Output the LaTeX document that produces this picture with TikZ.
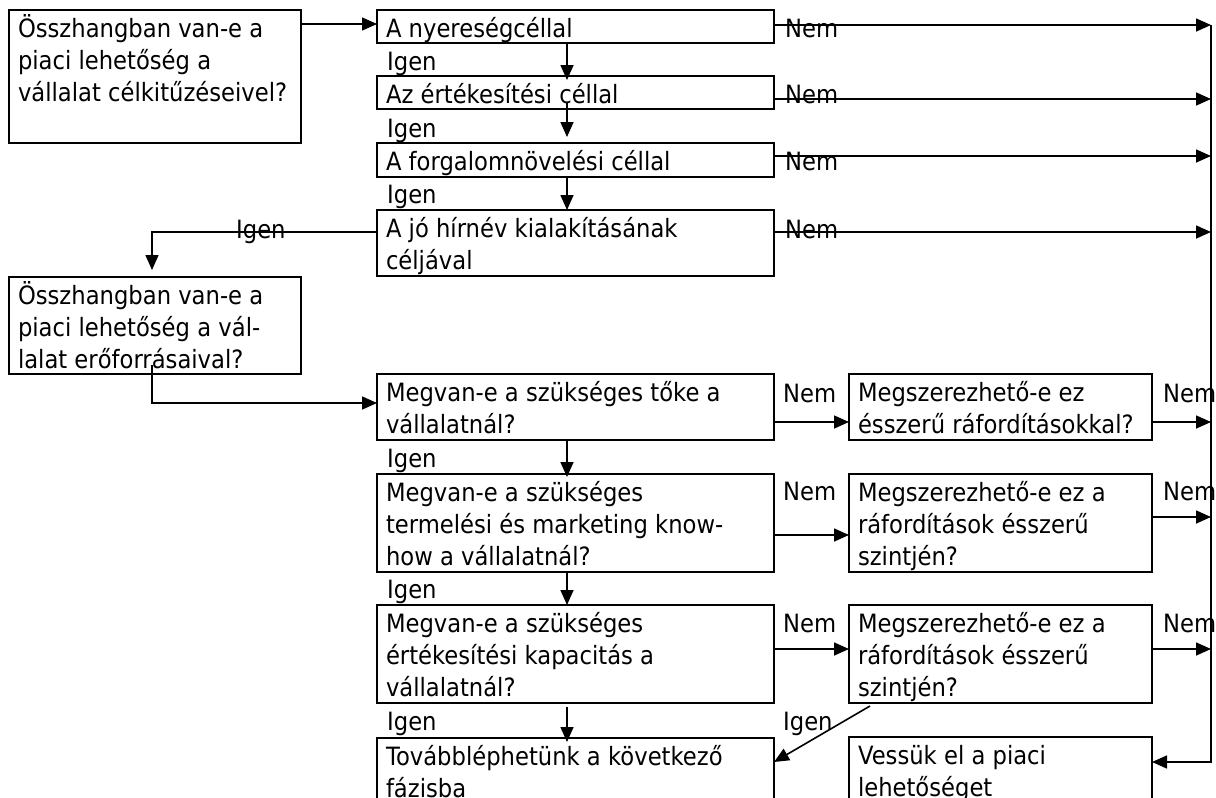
\documentclass[tikz,border=0pt]{standalone}
\usepackage{fontspec}
\setmainfont{DejaVu Sans}[FakeStretch=0.9]
\usetikzlibrary{arrows.meta,calc}
% top-aligned multi-line box text
\newcommand\qtext[2]{\parbox[t]{#1}{#2}}
\begin{document}
\begin{tikzpicture}[x=1pt,y=-1pt,
  every node/.style={font=\fontsize{25.2pt}{32pt}\selectfont},
  qbox/.style={draw, line width=2.2pt, anchor=north west, outer sep=0pt,
    inner xsep=9pt, inner ysep=0pt, text height=27pt},
  lbl/.style={anchor=base west, inner sep=0pt},
  flow/.style={line width=1.6pt, -{Triangle[length=15pt,width=13pt]}}]
\clip (0,0) rectangle (1216,798);

% left column
\node[qbox, text depth=106pt] (b0) at (9,10)
  {\qtext{274pt}{Összhangban van-e a\\piaci lehetőség a\\vállalat célkitűzéseivel?}};
\node[qbox, text depth=70pt] (b5) at (9,277)
  {\qtext{274pt}{Összhangban van-e a\\piaci lehetőség a vál-\\lalat erőforrásaival?}};

% goal column
\node[qbox, text depth=6pt] (n1) at (377,10) {\qtext{379pt}{A nyereségcéllal}};
\node[qbox, text depth=6pt] (n2) at (377,76) {\qtext{379pt}{Az értékesítési céllal}};
\node[qbox, text depth=7pt] (n3) at (377,143) {\qtext{379pt}{A forgalomnövelési céllal}};
\node[qbox, text depth=39pt] (n4) at (377,210)
  {\qtext{379pt}{A jó hírnév kialakításának\\céljával}};

% resource column
\node[qbox, text depth=39pt] (m1) at (377,374)
  {\qtext{379pt}{Megvan-e a szükséges tőke a\\vállalatnál?}};
\node[qbox, text depth=71pt] (m2) at (377,474)
  {\qtext{379pt}{Megvan-e a szükséges\\termelési és marketing know-\\how a vállalatnál?}};
\node[qbox, text depth=71pt] (m3) at (377,605)
  {\qtext{379pt}{Megvan-e a szükséges\\értékesítési kapacitás a\\vállalatnál?}};
\node[qbox, text depth=53pt] (t) at (377,738)
  {\qtext{379pt}{Továbbléphetünk a következő\\fázisba}};

% acquisition column
\node[qbox, text depth=39pt] (r1) at (849,374)
  {\qtext{285pt}{Megszerezhető-e ez\\ésszerű ráfordításokkal?}};
\node[qbox, text depth=71pt] (r2) at (849,474)
  {\qtext{285pt}{Megszerezhető-e ez a\\ráfordítások ésszerű\\szintjén?}};
\node[qbox, text depth=71pt] (r3) at (849,605)
  {\qtext{285pt}{Megszerezhető-e ez a\\ráfordítások ésszerű\\szintjén?}};
\node[qbox, text depth=53pt] (v) at (849,737)
  {\qtext{285pt}{Vessük el a piaci\\lehetőséget}};

% guide columns
\coordinate (cx) at (567,0);
\coordinate (rl) at (1211,0);
\coordinate (lx) at (152,0);

% connector end points
\path ($(n1.north east)+(0,15)$) coordinate (n1o)
      ($(n2.north east)+(0,23)$) coordinate (n2o)
      ($(n3.north east)+(0,13)$) coordinate (n3o)
      ($(n4.north east)+(0,22)$) coordinate (n4o)
      ($(n4.north west)+(0,22)$) coordinate (n4w)
      ($(m1.north east)+(0,48)$) coordinate (m1o)
      ($(m2.north east)+(0,61)$) coordinate (m2o)
      ($(m3.north east)+(0,44)$) coordinate (m3o)
      ($(r1.north east)+(0,48)$) coordinate (r1o)
      ($(r2.north east)+(0,43)$) coordinate (r2o)
      ($(r3.north east)+(0,44)$) coordinate (r3o)
      ($(v.north east)+(0,25)$) coordinate (vin);

% start
\draw[flow] ($(b0.north east)+(0,14)$) -- ($(n1.north west)+(0,14)$);

% yes chain of goals
\draw[flow] (cx |- n1.south) -- ($(cx |- n2.north)+(0,4)$);
\draw[flow] ($(cx |- n2.south)+(0,-6)$) -- ($(cx |- n3.north)+(0,-6)$);
\draw[flow] (cx |- n3.south) -- (cx |- n4.north);
\draw[flow] (n4w) -| ($(lx |- b5.north)+(0,-7)$);
\draw[flow] ($(lx |- b5.south)+(0,-9)$) |- ($(m1.north west)+(0,29)$);

% yes chain of resources
\draw[flow] (cx |- m1.south) -- ($(cx |- m2.north)+(0,3)$);
\draw[flow] (cx |- m2.south) -- (cx |- m3.north);
\draw[flow] ($(cx |- m3.south)+(0,4)$) -- ($(cx |- t.north)+(0,4)$);
\draw[flow] ($(r3.south west)+(21,3)$) -- ($(t.north east)+(0,24)$);

% no branches
\draw[flow] (n1o) -- (n1o -| rl);
\draw[flow] (n2o) -- (n2o -| rl);
\draw[flow] (n3o) -- (n3o -| rl);
\draw[flow] (n4o) -- (n4o -| rl);
\draw[flow] (m1o) -- (m1o -| r1.west);
\draw[flow] (m2o) -- (m2o -| r2.west);
\draw[flow] (m3o) -- (m3o -| r3.west);
\draw[flow] (r1o) -- (r1o -| rl);
\draw[flow] (r2o) -- (r2o -| rl);
\draw[flow] (r3o) -- (r3o -| rl);
\draw[flow] (n1o -| rl) -- (rl |- vin) -- (vin);

% answer labels
\node[lbl] (li1) at (387,70) {Igen};
\node[lbl] (li2) at (387,137) {Igen};
\node[lbl] (li3) at (387,203) {Igen};
\node[lbl] (li4) at (236,238) {Igen};
\node[lbl] (li5) at (387,467) {Igen};
\node[lbl] (li6) at (387,598) {Igen};
\node[lbl] (li7) at (387,730) {Igen};
\node[lbl] (li8) at (783,730) {Igen};
\node[lbl] (ln1) at (785,37) {Nem};
\node[lbl] (ln2) at (785,103) {Nem};
\node[lbl] (ln3) at (785,170) {Nem};
\node[lbl] (ln4) at (785,238) {Nem};
\node[lbl] (ln5) at (783,402) {Nem};
\node[lbl] (ln6) at (783,500) {Nem};
\node[lbl] (ln7) at (783,632) {Nem};
\node[lbl] (ln8) at (1163,402) {Nem};
\node[lbl] (ln9) at (1163,500) {Nem};
\node[lbl] (ln10) at (1163,632) {Nem};
\end{tikzpicture}
\end{document}
